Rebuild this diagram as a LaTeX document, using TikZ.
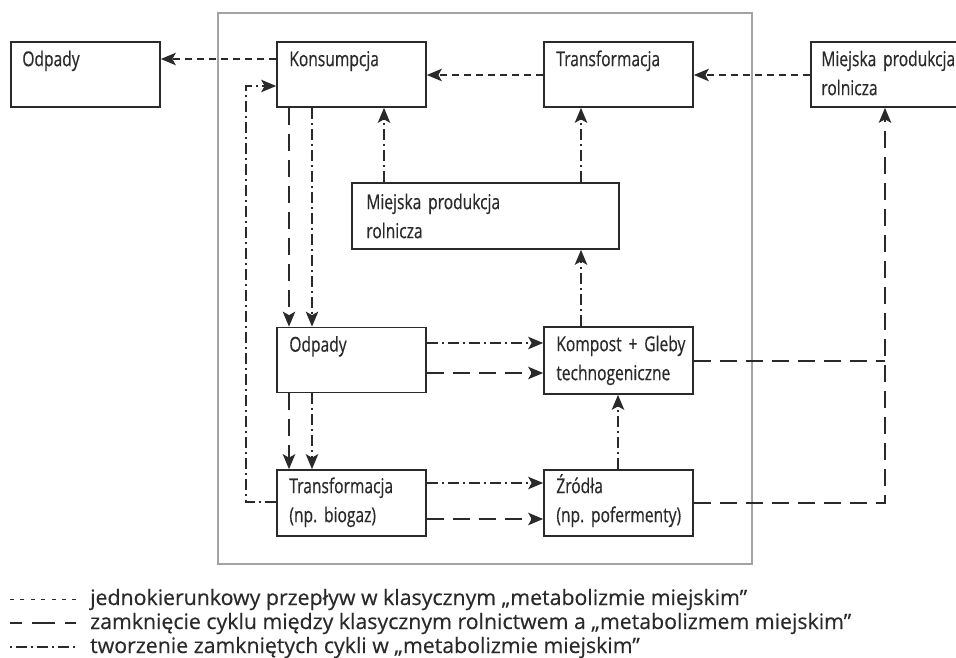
\documentclass[tikz,border=0pt]{standalone}
\usepackage{fontspec}
\setmainfont[FakeBold=0.4]{Open Sans}
\newfontfamily\boxfont[FakeStretch=0.76,FakeBold=0.5]{Open Sans}
\usetikzlibrary{arrows.meta,calc}
\definecolor{ink}{HTML}{2A2A2A}
\definecolor{framec}{HTML}{A3A3A3}
\tikzset{
  box/.style={draw=ink, line width=1.7pt, rectangle, inner sep=0pt, minimum width=149pt, minimum height=65pt},
  btext/.style={anchor=base west, inner sep=0pt, text=ink, text width=140pt, align=left, font=\boxfont\fontsize{20.5}{29}\selectfont},
  ltext/.style={anchor=base west, inner sep=0pt, text=ink, font=\fontsize{21.3}{24}\selectfont},
  flow/.style={draw=ink, line width=1.5pt, dash pattern=on 7pt off 5pt},
  closec/.style={draw=ink, line width=1.5pt, dash pattern=on 17pt off 9pt},
  cyc/.style={draw=ink, line width=1.5pt, dash pattern=on 11pt off 4pt on 2pt off 4pt},
  tip/.style={-{Stealth[length=15pt,width=12.5pt,inset=3.5pt]}},
}
\begin{document}
\begin{tikzpicture}[x=1pt,y=-1pt]
\useasboundingbox (0,0) rectangle (956,658);
\clip (0,0) rectangle (956,658);
% frame
\node[draw=framec, line width=1.8pt, inner sep=0pt, minimum width=534pt, minimum height=551pt] (frame) at (485,288.5) {};
% boxes
\node[box] (odpL) at (85.5,74.5) {};
\node[box] (kons) at (351.5,74.5) {};
\node[box] (trT) at (618.5,74.5) {};
\node[box] (mprR) at (885.5,74.5) {};
\node[box, minimum width=267pt, minimum height=66pt] (mprM) at (485.5,216) {};
\node[box] (odpM) at (351.5,360) {};
\node[box, minimum height=67pt] (komp) at (618.5,360.5) {};
\node[box, minimum height=66pt] (trB) at (351.5,503) {};
\node[box, minimum height=66pt] (zrod) at (618.5,503) {};
% box texts
\node[btext] (odpL-t) at ($(odpL.north west)+(12,25)$) {Odpady};
\node[btext] (kons-t) at ($(kons.north west)+(13,25)$) {Konsumpcja};
\node[btext] (trT-t) at ($(trT.north west)+(13,25)$) {Transformacja};
\node[btext] (mprR-t) at ($(mprR.north west)+(11,25)$) {Miejska produkcja\\rolnicza};
\node[btext] (mprM-t) at ($(mprM.north west)+(15,27)$) {Miejska produkcja\\rolnicza};
\node[btext] (odpM-t) at ($(odpM.north west)+(13,25)$) {Odpady};
\node[btext] (komp-t) at ($(komp.north west)+(13,25)$) {Kompost + Gleby\\technogeniczne};
\node[btext] (trB-t) at ($(trB.north west)+(13,24)$) {Transformacja\\(np.\ biogaz)};
\node[btext] (zrod-t) at ($(zrod.north west)+(13,24)$) {Źródła\\(np.\ pofermenty)};
% connectors: one-way flow
\draw[flow,tip] (kons.west |- 0,59) -- (odpL.east |- 0,59);
\draw[flow,tip] (trT.west |- 0,75) -- (kons.east |- 0,75);
\draw[flow,tip] (mprR.west |- 0,75) -- (trT.east |- 0,75);
% closing with agriculture
\draw[closec,tip] (kons.south -| 289,0) -- (odpM.north -| 289,0);
\draw[closec,tip] (odpM.east |- 0,373) -- (komp.west |- 0,373);
\draw[closec,tip] (odpM.south -| 289,0) -- (trB.north -| 289,0);
\draw[closec,tip] (trB.east |- 0,519) -- (zrod.west |- 0,519);
\coordinate (rj) at (885,361);
\draw[closec] (komp.east |- rj) -- (rj);
\draw[closec,tip] (zrod.east |- 0,503) -| (mprR.south -| rj);
% closed cycles
\draw[cyc,tip] (kons.south -| 312,0) -- (odpM.north -| 312,0);
\draw[cyc,tip] (mprM.north -| 384,0) -- (kons.south -| 384,0);
\draw[cyc,tip] (mprM.north -| 581,0) -- (trT.south -| 581,0);
\draw[cyc,tip] (komp.north -| 581,0) -- (mprM.south -| 581,0);
\draw[cyc,tip] (odpM.east |- 0,343) -- (komp.west |- 0,343);
\draw[cyc,tip] (odpM.south -| 312,0) -- (trB.north -| 312,0);
\draw[cyc,tip] (trB.east |- 0,483) -- (zrod.west |- 0,483);
\draw[cyc,tip] (zrod.north -| 618,0) -- (komp.south -| 618,0);
\coordinate (lc) at (246,86);
\draw[cyc,tip] (trB.west |- 0,502) -| (lc) -- (kons.west |- lc);
% legend
\coordinate (l1a) at (10,599); \coordinate (l1b) at (76,599);
\coordinate (l2a) at (10,623); \coordinate (l2b) at (76,623);
\coordinate (l3a) at (10,647); \coordinate (l3b) at (76,647);
\draw[draw=ink, line width=1pt, dash pattern=on 4pt off 6.4pt] (l1a) -- (l1b);
\draw[draw=ink, line width=1.3pt, dash pattern=on 12pt off 10pt on 23pt off 10pt on 11pt] (l2a) -- (l2b);
\draw[draw=ink, line width=1.1pt, dash pattern=on 2pt off 4pt on 11pt off 4pt] (l3a) -- (l3b);
\node[ltext] (leg1) at (90,605) {jednokierunkowy przepływ w klasycznym „metabolizmie miejskim”};
\node[ltext] (leg2) at (90,629) {zamknięcie cyklu między klasycznym rolnictwem a „metabolizmem miejskim”};
\node[ltext] (leg3) at (90,653) {tworzenie zamkniętych cykli w „metabolizmie miejskim”};
\end{tikzpicture}
\end{document}
